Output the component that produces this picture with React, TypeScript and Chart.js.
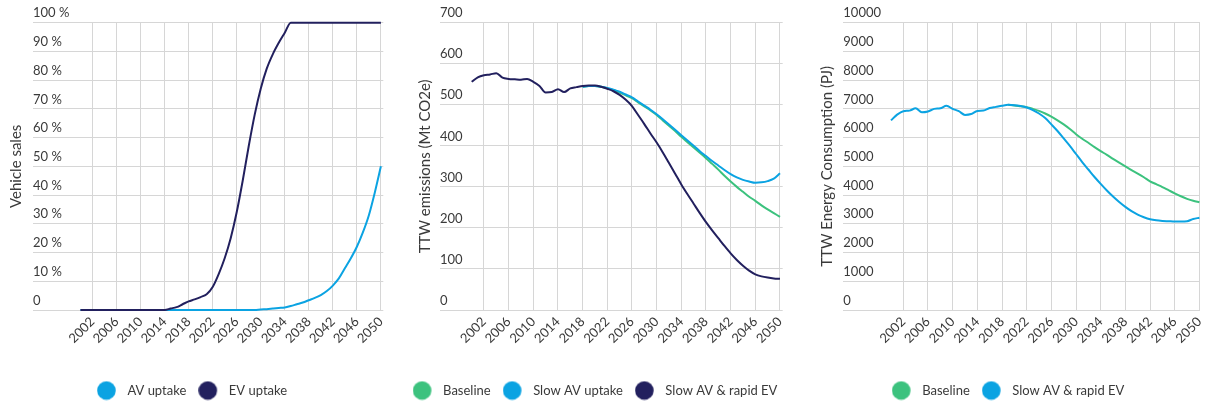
import React, { useEffect, useRef } from 'react';
import { Chart, registerables } from 'chart.js';

Chart.register(...registerables);

const YEARS = [
  2000, 2001, 2002, 2003, 2004, 2005, 2006, 2007, 2008, 2009,
  2010, 2011, 2012, 2013, 2014, 2015, 2016, 2017, 2018, 2019,
  2020, 2021, 2022, 2023, 2024, 2025, 2026, 2027, 2028, 2029,
  2030, 2031, 2032, 2033, 2034, 2035, 2036, 2037, 2038, 2039,
  2040, 2041, 2042, 2043, 2044, 2045, 2046, 2047, 2048, 2049, 2050,
];
const X_TICKS = [2002, 2006, 2010, 2014, 2018, 2022, 2026, 2030, 2034, 2038, 2042, 2046, 2050];

// Chart 1: vehicle sales share (%)
const AV_UPTAKE = [
  0, 0, 0, 0, 0, 0, 0, 0, 0, 0,
  0, 0, 0, 0, 0, 0, 0, 0, 0, 0,
  0, 0, 0, 0, 0, 0, 0, 0, 0, 0,
  0.2, 0.3, 0.5, 0.7, 0.9, 1.4, 2, 2.6, 3.4, 4.2,
  5.2, 6.6, 8.5, 11, 14.5, 18, 22, 27, 33, 41, 50,
];
const EV_UPTAKE = [
  0, 0, 0, 0, 0, 0, 0, 0, 0, 0,
  0, 0, 0, 0, 0, 0.5, 1, 2, 3, 3.7,
  4.5, 5.5, 8, 12.5, 18, 25, 34, 45, 57, 68,
  77, 84, 89, 93, 96.5, 100, 100, 100, 100, 100,
  100, 100, 100, 100, 100, 100, 100, 100, 100, 100, 100,
];

// Chart 2: TTW emissions (Mt CO2e)
const EM_BASELINE = [
  null, null, null, null, null, null, null, null, null, null,
  null, null, null, null, null, null, null, null, 544, 546,
  546, 544, 540, 536, 530, 523, 516, 506, 496, 486,
  475, 462, 449, 436, 422, 409, 396, 383, 370, 356,
  342, 327, 313, 300, 288, 276, 266, 255, 245, 236, 227,
];
const EM_SLOW_AV = [
  null, null, null, null, null, null, null, null, null, null,
  null, null, null, null, null, null, null, null, 544, 546,
  546, 544, 541, 537, 532, 525, 518, 508, 498, 488,
  477, 465, 452, 439, 426, 413, 400, 387, 375, 363,
  352, 341, 331, 323, 317, 313, 310, 311, 314, 320, 333,
];
const EM_RAPID_EV = [
  556, 567, 572, 574, 577, 566, 563, 562, 561, 563,
  556, 546, 530, 531, 538, 531, 540, 543, 546, 547,
  547, 544, 539, 533, 524, 512, 497, 475, 453, 430,
  408, 384, 358, 332, 306, 282, 259, 236, 214, 194,
  175, 156, 138, 122, 108, 96, 87, 82, 79, 77, 76,
];

// Chart 3: TTW energy consumption (PJ)
const EN_BASELINE = [
  null, null, null, null, null, null, null, null, null, null,
  null, null, null, null, null, null, null, null, null, 7140,
  7120, 7090, 7060, 7000, 6930, 6840, 6730, 6600, 6460, 6300,
  6120, 5960, 5820, 5670, 5530, 5400, 5260, 5130, 5000, 4870,
  4750, 4620, 4480, 4380, 4280, 4170, 4060, 3960, 3870, 3800, 3750,
];
const EN_RAPID_EV = [
  6600, 6800, 6920, 6940, 7020, 6880, 6910, 7000, 7020, 7110,
  7000, 6920, 6790, 6820, 6930, 6940, 7030, 7070, 7110, 7140,
  7130, 7100, 7050, 6960, 6840, 6680, 6460, 6230, 5970, 5710,
  5430, 5150, 4890, 4630, 4390, 4160, 3950, 3760, 3590, 3440,
  3320, 3230, 3160, 3120, 3100, 3090, 3080, 3080, 3090, 3170, 3210,
];

const NAVY = '#22205e';
const BLUE = '#0ba3e2';
const GREEN = '#3cc27e';
const TEXT = '#3a3a3a';
const GRID = '#d6d6d6';
const FONT = 'Lato';
const CANVAS_H = 407;

function makeDot(color: string) {
  const c = document.createElement('canvas');
  c.width = 24;
  c.height = 20;
  const ctx = c.getContext('2d');
  if (ctx) {
    ctx.fillStyle = color;
    ctx.beginPath();
    ctx.arc(9.5, 10, 9.3, 0, Math.PI * 2);
    ctx.fill();
  }
  return c;
}

type SeriesDef = { label: string; data: (number | null)[]; color: string; order: number };
type ChartDef = {
  left: number;
  width: number;
  yWidth: number;
  rightWidth: number;
  titlePad: number;
  xMin: number;
  xMax: number;
  yMax: number;
  yStep: number;
  yTitle: string;
  yFormat: (v: number) => string;
  series: SeriesDef[];
};

const CHARTS: ChartDef[] = [
  {
    left: 0, width: 384, yWidth: 33, rightWidth: 0.7, titlePad: 7,
    xMin: 1992.1, xMax: 2050.4, yMax: 100, yStep: 10, yTitle: 'Vehicle sales',
    yFormat: (v) => (v === 0 ? '0' : v + ' %'),
    series: [
      { label: 'AV uptake', data: AV_UPTAKE, color: BLUE, order: 1 },
      { label: 'EV uptake', data: EV_UPTAKE, color: NAVY, order: 0 },
    ],
  },
  {
    left: 398, width: 394, yWidth: 42, rightWidth: 9.3, titlePad: 18,
    xMin: 1994.87, xMax: 2050.44, yMax: 700, yStep: 100, yTitle: 'TTW emissions (Mt CO2e)',
    yFormat: (v) => String(v),
    series: [
      { label: 'Baseline', data: EM_BASELINE, color: GREEN, order: 2 },
      { label: 'Slow AV uptake', data: EM_SLOW_AV, color: BLUE, order: 1 },
      { label: 'Slow AV & rapid EV', data: EM_RAPID_EV, color: NAVY, order: 0 },
    ],
  },
  {
    left: 808, width: 400, yWidth: 35.3, rightWidth: 8, titlePad: 10,
    xMin: 1992.27, xMax: 2050.1, yMax: 10000, yStep: 1000, yTitle: 'TTW Energy Consumption (PJ)',
    yFormat: (v) => String(v),
    series: [
      { label: 'Baseline', data: EN_BASELINE, color: GREEN, order: 1 },
      { label: 'Slow AV & rapid EV', data: EN_RAPID_EV, color: BLUE, order: 0 },
    ],
  },
];

function LineChart({ def }: { def: ChartDef }) {
  const ref = useRef<HTMLCanvasElement>(null);
  useEffect(() => {
    if (!ref.current) return;
    const dots = def.series.map((s) => makeDot(s.color));
    const chart = new Chart(ref.current, {
      type: 'line',
      data: {
        datasets: def.series.map((s) => ({
          label: s.label,
          data: YEARS.map((y, i) => ({ x: y, y: s.data[i] })),
          borderColor: s.color,
          backgroundColor: s.color,
          borderWidth: 2,
          pointRadius: 0,
          cubicInterpolationMode: 'monotone',
          fill: false,
          clip: 4,
          order: s.order,
        })),
      },
      options: {
        responsive: false,
        animation: false,
        events: [],
        layout: { padding: { left: 0, right: 0, top: 22.7, bottom: 0 } },
        plugins: {
          tooltip: { enabled: false },
          legend: {
            position: 'bottom',
            labels: {
              usePointStyle: true,
              pointStyleWidth: 24,
              boxHeight: 13,
              padding: 12,
              color: TEXT,
              font: { family: FONT, size: 13 },
              generateLabels: (ch: any) => {
                const items = Chart.defaults.plugins.legend.labels.generateLabels(ch);
                return items
                  .map((it: any) => ({ ...it, pointStyle: dots[it.datasetIndex] }))
                  .sort((a: any, b: any) => a.datasetIndex - b.datasetIndex);
              },
            },
          },
        },
        scales: {
          x: {
            type: 'linear',
            min: def.xMin,
            max: def.xMax,
            afterBuildTicks: (s: any) => {
              s.ticks = X_TICKS.map((v) => ({ value: v }));
            },
            afterFit: (s: any) => {
              s.height = 62;
              s.paddingLeft = 0;
              s.paddingRight = 0;
            },
            grid: { color: GRID, drawTicks: false, lineWidth: 1 },
            border: { display: false },
            ticks: {
              autoSkip: false,
              minRotation: 45,
              maxRotation: 45,
              padding: 4,
              color: TEXT,
              font: { family: FONT, size: 13 },
              callback: (v: any) => String(v),
            },
          },
          y: {
            type: 'linear',
            position: 'left',
            min: 0,
            max: def.yMax,
            afterFit: (s: any) => {
              s.width = def.yWidth;
              s.paddingTop = 0;
              s.paddingBottom = 0;
            },
            grid: { color: GRID, drawTicks: false, lineWidth: 1 },
            border: { display: false },
            ticks: {
              stepSize: def.yStep,
              mirror: true,
              padding: 0,
              labelOffset: -9.5,
              color: TEXT,
              font: { family: FONT, size: 13 },
              callback: (v: any) => def.yFormat(Number(v)),
            },
            title: {
              display: true,
              text: def.yTitle,
              color: TEXT,
              font: { family: FONT, size: 15 },
              padding: { top: def.titlePad, bottom: 0 },
            },
          },
          yr: {
            type: 'linear',
            position: 'right',
            display: true,
            afterFit: (s: any) => {
              s.width = def.rightWidth;
              s.paddingTop = 0;
              s.paddingBottom = 0;
            },
            grid: { display: false, drawTicks: false },
            border: { display: false },
            ticks: { display: false },
          },
        },
      } as any,
    });
    return () => chart.destroy();
  }, [def]);
  return (
    <div style={{ position: 'absolute', left: def.left, top: 0, width: def.width, height: CANVAS_H }}>
      <canvas ref={ref} width={def.width} height={CANVAS_H} style={{ width: def.width, height: CANVAS_H, display: 'block' }} />
    </div>
  );
}

export default function App() {
  return (
    <div style={{ position: 'absolute', left: 0, top: 0, width: 1208, height: 403, overflow: 'hidden', background: '#fff' }}>
      {CHARTS.map((d, i) => (
        <LineChart key={i} def={d} />
      ))}
    </div>
  );
}
